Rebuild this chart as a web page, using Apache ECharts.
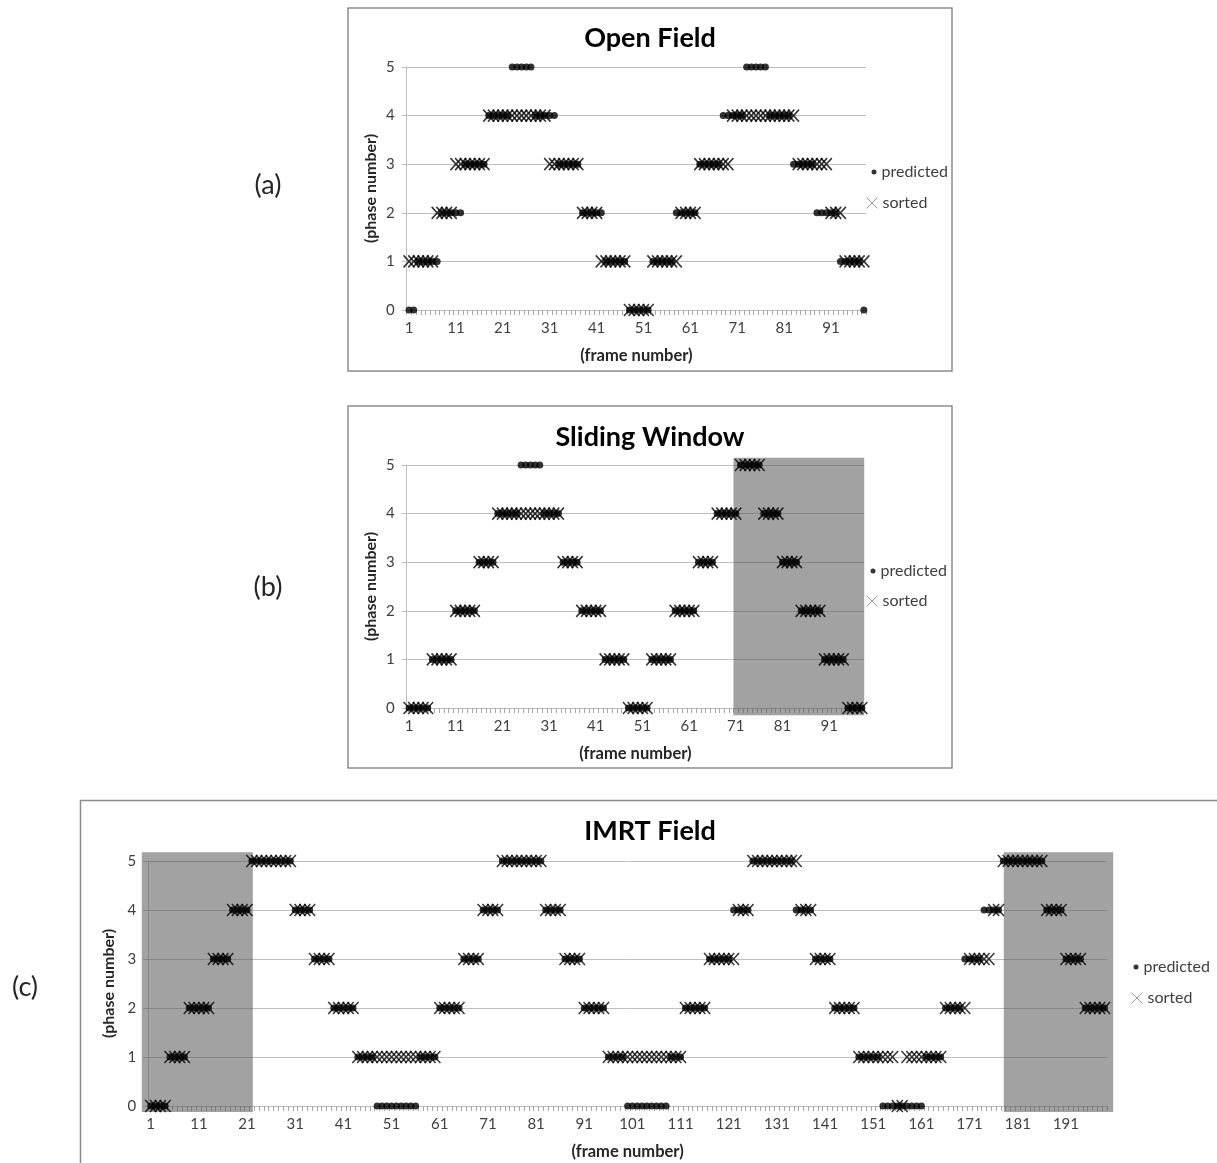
<!DOCTYPE html>
<html>
<head>
<meta charset="utf-8">
<script src="https://cdn.jsdelivr.net/npm/echarts@6/dist/echarts.min.js"></script>
<style>
html,body{margin:0;padding:0;background:#ffffff;}
#chart{width:1217px;height:1163px;}
</style>
</head>
<body>
<div id="chart"></div>
<script>
// ---------------- DATA ----------------
const openTitle = 'Open Field';
const slidingTitle = 'Sliding Window';
const imrtTitle = 'IMRT Field';
const phaseTicks = [0, 1, 2, 3, 4, 5];

// (a) Open Field, frames 1..98
const openPredicted = [
  0,0,
  1,1,1,1,1, 2,2,2,2,2, 3,3,3,3,3, 4,4,4,4,4, 5,5,5,5,5,
  4,4,4,4,4, 3,3,3,3,3, 2,2,2,2,2, 1,1,1,1,1, 0,0,0,0,0,
  1,1,1,1,1, 2,2,2,2,2, 3,3,3,3,3, 4,4,4,4,4, 5,5,5,5,5,
  4,4,4,4,4, 3,3,3,3,3, 2,2,2,2,2, 1,1,1,1,1,
  0
];
const openSorted = [
  1,1,1,1,1,1, 2,2,2,2, 3,3,3,3,3,3,3,
  4,4,4,4,4,4,4,4,4,4,4,4,4,
  3,3,3,3,3,3,3, 2,2,2,2, 1,1,1,1,1,1, 0,0,0,0,0,
  1,1,1,1,1,1, 2,2,2,2, 3,3,3,3,3,3,3,
  4,4,4,4,4,4,4,4,4,4,4,4,4,4,
  3,3,3,3,3,3,3, 2,2,2, 1,1,1,1,1
];

// (b) Sliding Window, frames 1..98
const slidingPredicted = [
  0,0,0,0,0, 1,1,1,1,1, 2,2,2,2,2, 3,3,3,3, 4,4,4,4,4, 5,5,5,5,5, 4,4,4,4, 3,3,3,3, 2,2,2,2,2, 1,1,1,1,1,
  0,0,0,0,0, 1,1,1,1,1, 2,2,2,2,2, 3,3,3,3, 4,4,4,4,4, 5,5,5,5,5, 4,4,4,4, 3,3,3,3, 2,2,2,2,2, 1,1,1,1,1,
  0,0,0,0
];
const slidingSorted = [
  0,0,0,0,0, 1,1,1,1,1, 2,2,2,2,2, 3,3,3,3, 4,4,4,4,4, 4,4,4,4,4, 4,4,4,4, 3,3,3,3, 2,2,2,2,2, 1,1,1,1,1,
  0,0,0,0,0, 1,1,1,1,1, 2,2,2,2,2, 3,3,3,3, 4,4,4,4,4, 5,5,5,5,5, 4,4,4,4, 3,3,3,3, 2,2,2,2,2, 1,1,1,1,1,
  0,0,0,0
];
// shaded window: [fromFrame, toFrame, yBottom, yTop]
const slidingShade = [[70.5, 98.5, -0.15, 5.15]];

// (c) IMRT Field, frames 1..199
const imrtPredicted = [
  0,0,0,0, 1,1,1,1, 2,2,2,2,2, 3,3,3,3, 4,4,4,4, 5,5,5,5,5,5,5,5,5,
  4,4,4,4, 3,3,3,3, 2,2,2,2,2, 1,1,1,1, 0,0,0,0,0,0,0,0,0,
  1,1,1,1, 2,2,2,2,2, 3,3,3,3, 4,4,4,4, 5,5,5,5,5,5,5,5,5,
  4,4,4,4, 3,3,3,3, 2,2,2,2,2, 1,1,1,1, 0,0,0,0,0,0,0,0,0,
  1,1,1, 2,2,2,2,2, 3,3,3,3,3, 4,4,4,4, 5,5,5,5,5,5,5,5,5,
  4,4,4,4, 3,3,3,3, 2,2,2,2,2, 1,1,1,1,1, 0,0,0,0,0,0,0,0,0,
  1,1,1,1, 2,2,2,2, 3,3,3,3, 4,4,4,4, 5,5,5,5,5,5,5,5,5,
  4,4,4,4, 3,3,3,3, 2,2,2,2,2
];
const imrtSorted = [
  0,0,0,0, 1,1,1,1, 2,2,2,2,2, 3,3,3,3, 4,4,4,4, 5,5,5,5,5,5,5,5,5,
  4,4,4,4, 3,3,3,3, 2,2,2,2,2, 1,1,1,1,1,1,1,1,1,1,1,1,1,1,1,1,1,
  2,2,2,2,2, 3,3,3,3, 4,4,4,4, 5,5,5,5,5,5,5,5,5,
  4,4,4,4, 3,3,3,3, 2,2,2,2,2, 1,1,1,1,1,1,1,1,1,1,1,1,1,1,1,1,
  2,2,2,2,2, 3,3,3,3,3,3, 4,4,4, 5,5,5,5,5,5,5,5,5,5,
  4,4,4, 3,3,3,3, 2,2,2,2,2, 1,1,1,1,1,1,1,1, 0,0, 1,1,1,1,1,1,1,1,
  2,2,2,2,2, 3,3,3,3,3, 4,4, 5,5,5,5,5,5,5,5,5,
  4,4,4,4, 3,3,3,3, 2,2,2,2,2
];
const imrtShade = [[-0.86, 22.2, -0.12, 5.18], [178.1, 200.8, -0.12, 5.18]];

// frame-number categories (tick labels 1, 11, 21, ...)
const openFrames = openPredicted.map((_, i) => String(i + 1));
const slidingFrames = slidingPredicted.map((_, i) => String(i + 1));
const imrtFrames = imrtPredicted.map((_, i) => String(i + 1));

// ---------------- STYLE / LAYOUT ----------------
const FONT = 'Lato, "Open Sans", "DejaVu Sans", sans-serif';
const X_PATH = 'path://M0,0L10,10M10,0L0,10';
const SHADE = 'rgba(85,85,85,0.55)';

function catAxis(gridIndex, cats) {
  return {
    type: 'category', gridIndex: gridIndex, data: cats, boundaryGap: true,
    axisLine: {show: true, lineStyle: {color: '#bfbfbf', width: 1}},
    axisTick: {show: true, interval: 0, length: 5, lineStyle: {color: '#a8a8a8'}},
    axisLabel: {interval: 9, color: '#404040', fontSize: 15, fontFamily: FONT, margin: 11},
    splitLine: {show: false},
    name: '(frame number)', nameLocation: 'middle', nameGap: 37,
    nameTextStyle: {fontWeight: 'bold', fontSize: 16.5, color: '#262626', fontFamily: FONT}
  };
}
function hiddenValX(gridIndex, n) {
  return {type: 'value', gridIndex: gridIndex, min: 0.5, max: n + 0.5, show: false};
}
function phaseAxis(gridIndex, nameGap) {
  return {
    type: 'value', gridIndex: gridIndex, min: 0, max: 5, interval: 1,
    axisLine: {show: true, lineStyle: {color: '#bfbfbf', width: 1}},
    axisTick: {show: true, length: 5, lineStyle: {color: '#bfbfbf'}},
    axisLabel: {color: '#404040', fontSize: 15, fontFamily: FONT, margin: 12,
      formatter: v => phaseTicks.indexOf(v) >= 0 ? String(v) : ''},
    splitLine: {show: true, lineStyle: {color: '#bfbfbf', width: 1}},
    name: '(phase number)', nameLocation: 'middle', nameGap: nameGap, nameRotate: 90,
    nameTextStyle: {fontWeight: 'bold', fontSize: 16, color: '#262626', fontFamily: FONT}
  };
}
function predSeries(xi, yi, data) {
  return {type: 'scatter', name: 'predicted', xAxisIndex: xi, yAxisIndex: yi, data: data,
    symbol: 'circle', symbolSize: 7, itemStyle: {color: '#000'},
    emphasis: {disabled: true}, silent: true, z: 3};
}
function sortSeries(xi, yi, data) {
  return {type: 'scatter', name: 'sorted', xAxisIndex: xi, yAxisIndex: yi, data: data,
    symbol: X_PATH, symbolSize: [11, 12],
    itemStyle: {color: 'transparent', borderColor: '#000', borderWidth: 1.6},
    emphasis: {disabled: true}, silent: true, z: 4};
}
function renderShade(params, api) {
  const p0 = api.coord([api.value(0), api.value(3)]);
  const p1 = api.coord([api.value(1), api.value(2)]);
  return {type: 'rect', shape: {x: p0[0], y: p0[1], width: p1[0] - p0[0], height: p1[1] - p0[1]},
    style: {fill: SHADE}};
}
function shadeSeries(xi, yi, data) {
  return {type: 'custom', xAxisIndex: xi, yAxisIndex: yi, data: data, renderItem: renderShade,
    encode: {x: [0, 1], y: [2, 3]}, clip: false, silent: true, z: 1};
}
function legendPair(px, py, sx, sy) {
  const ts = {fontSize: 16, color: '#404040', fontFamily: FONT};
  return [
    {data: [{name: 'predicted', icon: 'circle'}], orient: 'vertical', left: px, top: py,
      itemWidth: 5, itemHeight: 5, padding: 0, selectedMode: false, textStyle: ts,
      itemStyle: {color: '#000', borderWidth: 0}},
    {data: [{name: 'sorted', icon: X_PATH}], orient: 'vertical', left: sx, top: sy,
      itemWidth: 11, itemHeight: 11, padding: 0, selectedMode: false, textStyle: ts,
      itemStyle: {color: 'transparent', borderColor: '#808080', borderWidth: 1}}
  ];
}
function titleAt(text, x, y) {
  return {text: text, left: x, top: y, textAlign: 'center', padding: 0,
    textStyle: {fontSize: 27, fontWeight: 'bold', color: '#000', fontFamily: FONT}};
}
function panelLabel(text, x, y) {
  return {type: 'text', x: x, y: y, silent: true,
    style: {text: text, font: '27px ' + FONT, fill: '#262626', align: 'center', verticalAlign: 'middle',
      textAlign: 'center', textVerticalAlign: 'middle'}};
}
function box(x, y, w, h) {
  return {type: 'rect', silent: true, z: -10,
    shape: {x: x, y: y, width: w, height: h},
    style: {fill: 'none', stroke: '#8c8c8c', lineWidth: 1.5}};
}

const option = {
  animation: false,
  backgroundColor: '#ffffff',
  title: [
    titleAt(openTitle, 650, 25),
    titleAt(slidingTitle, 650, 424),
    titleAt(imrtTitle, 650, 818)
  ],
  legend: [].concat(
    legendPair(871.5, 164, 866, 195),
    legendPair(870.5, 563, 866, 593),
    legendPair(1133.5, 959, 1131, 990)
  ),
  grid: [
    {left: 406.7, top: 67, width: 459.5, height: 243},
    {left: 406.7, top: 465, width: 457.5, height: 243},
    {left: 148.3, top: 861, width: 958.6, height: 245}
  ],
  xAxis: [
    catAxis(0, openFrames),
    catAxis(1, slidingFrames),
    hiddenValX(1, slidingFrames.length),
    catAxis(2, imrtFrames),
    hiddenValX(2, imrtFrames.length)
  ],
  yAxis: [
    phaseAxis(0, 28),
    phaseAxis(1, 28),
    phaseAxis(2, 31)
  ],
  series: [
    predSeries(0, 0, openPredicted),
    sortSeries(0, 0, openSorted),
    shadeSeries(2, 1, slidingShade),
    predSeries(1, 1, slidingPredicted),
    sortSeries(1, 1, slidingSorted),
    shadeSeries(4, 2, imrtShade),
    predSeries(3, 2, imrtPredicted),
    sortSeries(3, 2, imrtSorted)
  ],
  graphic: [
    box(348, 8, 604, 363),
    box(348, 406, 604, 362),
    box(80.5, 800.5, 1200, 420),
    panelLabel('(a)', 268, 185),
    panelLabel('(b)', 268, 587),
    panelLabel('(c)', 25, 987)
  ]
};

const chart = echarts.init(document.getElementById('chart'), null, {renderer: 'canvas'});
chart.setOption(option);
</script>
</body>
</html>
